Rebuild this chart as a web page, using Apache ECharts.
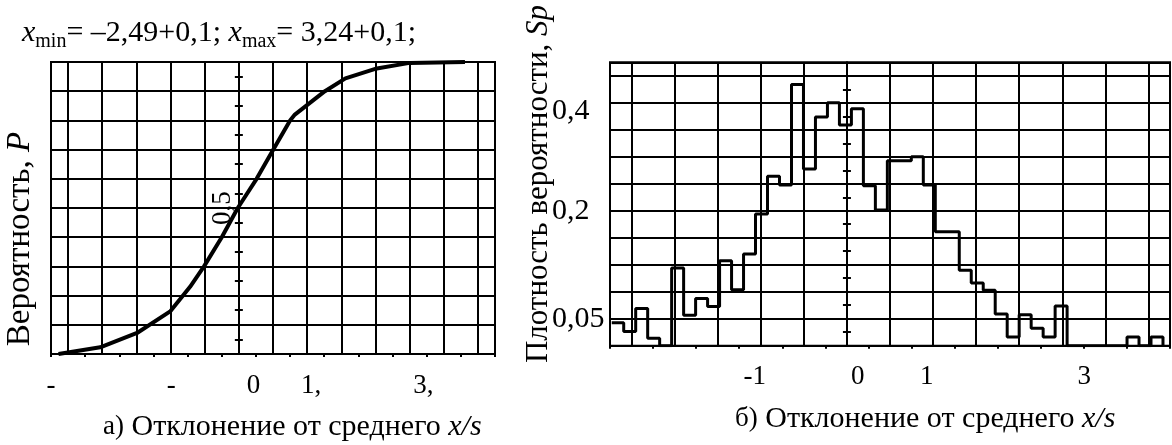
<!DOCTYPE html>
<html>
<head>
<meta charset="utf-8">
<script src="https://cdn.jsdelivr.net/npm/echarts@6/dist/echarts.min.js"></script>
<style>
  html, body { margin: 0; padding: 0; background: #fff; }
  #chart { width: 1172px; height: 445px; }
</style>
</head>
<body>
<div id="chart"></div>
<script>
// а) integral curve, deviation x/s and probability P
var cdfX = [-2.64, -2.03, -1.49, -1.0, -0.714, -0.51, -0.25, -0.016, 0.26, 0.505, 0.75, 0.82, 1.26, 1.56, 2.02, 2.5, 3.31];
var cdfP = [0, 0.023, 0.072, 0.147, 0.23, 0.3, 0.4, 0.5, 0.6, 0.7, 0.8, 0.82, 0.9, 0.944, 0.978, 0.997, 1.0];

// б) histogram of the density, equal bins
var binStart = -2.73;
var binWidth = 0.1391;
var density = [
  0.034, 0.021, 0.055, 0.011, 0, 0.115, 0.045, 0.070, 0.058, 0.126,
  0.083, 0.136, 0.195, 0.251, 0.238, 0.387, 0.262, 0.339, 0.360, 0.327,
  0.351, 0.237, 0.201, 0.274, 0.274, 0.280, 0.238, 0.169, 0.169, 0.112,
  0.093, 0.082, 0.047, 0.013, 0.046, 0.026, 0.013, 0.059, 0, 0,
  0, 0, 0, 0.013, 0, 0.013
];

// tick labels, placed where the picture shows them
var leftTickValues = [-2.75, -0.99, 0.215, 1.057, 2.70];
var leftTickLabels = ['-', '-', '0', '1,', '3,'];
var probTickValues = [0.5];
var probTickLabels = ['0,5'];
var rightTickValues = [-1.07, 0.126, 0.928, 2.754];
var rightTickLabels = ['-1', '0', '1', '3'];
var densTickValues = [0.04, 0.2, 0.347];
var densTickLabels = ['0,05', '0,2', '0,4'];

var serif = '"Liberation Serif", "Times New Roman", serif';

function pick(values, labels) {
  return function (v) {
    var best = 0;
    for (var i = 1; i < values.length; i++) {
      if (Math.abs(values[i] - v) < Math.abs(values[best] - v)) best = i;
    }
    return labels[best];
  };
}

var cdfData = cdfX.map(function (x, i) { return [x, cdfP[i]]; });

var histData = [];
for (var i = 0; i < density.length; i++) {
  histData.push([binStart + i * binWidth, density[i]]);
}
var histEnd = binStart + density.length * binWidth;
histData.push([histEnd, density[density.length - 1]]);
histData.push([histEnd, 0]);

var black = { color: '#000', width: 2 };

function xAxisFor(grid, values, labels) {
  return {
    type: 'value', gridIndex: grid,
    min: -2.75, max: 3.75, interval: 0.5,
    axisLine: { show: false, onZero: false },
    axisTick: { show: true, length: 3, lineStyle: black },
    splitLine: { show: false },
    minorTick: { show: false, splitNumber: 2 },
    minorSplitLine: { show: true, lineStyle: black },
    axisLabel: {
      customValues: values, formatter: pick(values, labels),
      margin: 18, color: '#000', fontSize: 27, fontFamily: serif, hideOverlap: false
    }
  };
}

var chart = echarts.init(document.getElementById('chart'));

var option = {
  animation: false,
  backgroundColor: '#fff',
  grid: [
    { left: 51, top: 62, width: 444, height: 292, show: true, borderColor: '#000', borderWidth: 2, outerBoundsMode: 'none' },
    { left: 610, top: 62.3, width: 560, height: 283.4, show: true, borderColor: '#000', borderWidth: 2, outerBoundsMode: 'none' }
  ],
  xAxis: [
    xAxisFor(0, leftTickValues, leftTickLabels),
    xAxisFor(1, rightTickValues, rightTickLabels)
  ],
  yAxis: [
    {
      type: 'value', gridIndex: 0, min: 0, max: 1, interval: 0.1, position: 'left',
      axisLine: { show: true, onZero: true, lineStyle: black },
      axisTick: { show: false },
      minorTick: { show: true, splitNumber: 2, length: 4, lineStyle: black },
      splitLine: { show: true, lineStyle: black },
      axisLabel: { show: false }
    },
    {
      type: 'value', gridIndex: 0, min: 0, max: 1, interval: 0.1, position: 'right',
      axisLine: { show: false, onZero: true, onZeroAxisIndex: 0 },
      axisTick: { show: false },
      minorTick: { show: true, splitNumber: 2, length: 4, lineStyle: black },
      splitLine: { show: false },
      axisLabel: { show: false }
    },
    {
      // label of the probability axis, sitting on x = 0
      type: 'value', gridIndex: 0, min: 0, max: 1, position: 'left', offset: -187.8,
      axisLine: { show: false, onZero: false },
      axisTick: { show: false },
      splitLine: { show: false },
      axisLabel: {
        customValues: probTickValues, formatter: pick(probTickValues, probTickLabels),
        rotate: 90, margin: 2, color: '#000', fontSize: 27, fontFamily: serif, hideOverlap: false
      }
    },
    {
      type: 'value', gridIndex: 1, min: 0, max: 0.42, interval: 0.04, position: 'left',
      axisLine: { show: true, onZero: true, lineStyle: black },
      axisTick: { show: false },
      minorTick: { show: true, splitNumber: 2, length: 4, lineStyle: black },
      splitLine: { show: true, lineStyle: black },
      axisLabel: { show: false }
    },
    {
      type: 'value', gridIndex: 1, min: 0, max: 0.42, interval: 0.04, position: 'right',
      axisLine: { show: false, onZero: true, onZeroAxisIndex: 1 },
      axisTick: { show: false },
      minorTick: { show: true, splitNumber: 2, length: 4, lineStyle: black },
      splitLine: { show: false },
      axisLabel: { show: false }
    },
    {
      type: 'value', gridIndex: 1, min: 0, max: 0.42, position: 'left',
      axisLine: { show: false, onZero: false },
      axisTick: { show: false },
      splitLine: { show: false },
      axisLabel: {
        customValues: densTickValues, formatter: pick(densTickValues, densTickLabels),
        align: 'left', margin: 58, color: '#000', fontSize: 30, fontFamily: serif, hideOverlap: false
      }
    }
  ],
  series: [
    {
      type: 'line', xAxisIndex: 0, yAxisIndex: 0,
      data: cdfData, symbol: 'none', smooth: false,
      lineStyle: { color: '#000', width: 4 }
    },
    {
      type: 'line', xAxisIndex: 1, yAxisIndex: 3,
      data: histData, step: 'end', symbol: 'none',
      lineStyle: { color: '#000', width: 3 }
    }
  ],
  graphic: [
    {
      type: 'text', left: 22, top: 18,
      style: {
        text: '{i|x}{s|min}= –2,49+0,1; {i|x}{s|max}= 3,24+0,1;',
        fontSize: 30, fontFamily: serif, fill: '#000',
        rich: {
          i: { fontSize: 30, fontFamily: serif, fontStyle: 'italic' },
          s: { fontSize: 20, fontFamily: serif, padding: [18, 0, 0, 0] }
        }
      }
    },
    {
      type: 'text', x: 103, y: 427,
      style: {
        text: '{a|а)} Отклонение от среднего {i|x/s}',
        fontSize: 30, fontFamily: serif, fill: '#000', align: 'left', verticalAlign: 'middle',
        rich: {
          a: { fontSize: 27, fontFamily: serif },
          i: { fontSize: 30, fontFamily: serif, fontStyle: 'italic' }
        }
      }
    },
    {
      type: 'text', x: 735, y: 419,
      style: {
        text: '{a|б)} Отклонение от среднего {i|x/s}',
        fontSize: 30, fontFamily: serif, fill: '#000', align: 'left', verticalAlign: 'middle',
        rich: {
          a: { fontSize: 27, fontFamily: serif },
          i: { fontSize: 30, fontFamily: serif, fontStyle: 'italic' }
        }
      }
    },
    {
      type: 'text', x: 20, y: 239, rotation: Math.PI / 2,
      style: {
        text: 'Вероятность, {i|P}',
        fontSize: 33, fontFamily: serif, fill: '#000', align: 'center', verticalAlign: 'middle',
        rich: { i: { fontSize: 33, fontFamily: serif, fontStyle: 'italic' } }
      }
    },
    {
      type: 'text', x: 539, y: 184, rotation: Math.PI / 2,
      style: {
        text: 'Плотность вероятности, {i|Sp}',
        fontSize: 31, fontFamily: serif, fill: '#000', align: 'center', verticalAlign: 'middle',
        rich: { i: { fontSize: 31, fontFamily: serif, fontStyle: 'italic' } }
      }
    }
  ]
};

chart.setOption(option);
window.addEventListener('resize', chart.resize);
</script>
</body>
</html>
